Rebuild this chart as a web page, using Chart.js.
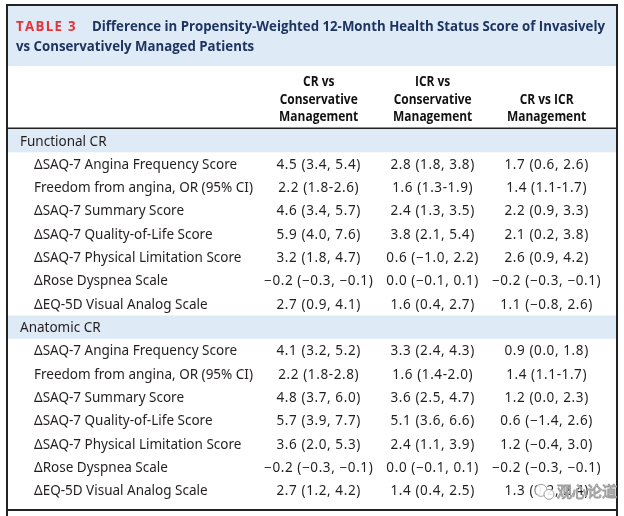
<!DOCTYPE html>
<html>
<head>
<meta charset="utf-8">
<script src="https://cdn.jsdelivr.net/npm/chart.js@4.4.1/dist/chart.umd.min.js"></script>
<style>
  html, body { margin: 0; padding: 0; background: #fff; }
  #wrap { width: 624px; height: 516px; }
</style>
</head>
<body>
<div id="wrap"><canvas id="table_3"></canvas></div>
<script>
const titleTag = 'TABLE 3';
const titleLines = [
    'Difference in Propensity-Weighted 12-Month Health Status Score of Invasively',
    'vs Conservatively Managed Patients'
];
const columnHeads = [
    ['CR vs', 'Conservative', 'Management'],
    ['ICR vs', 'Conservative', 'Management'],
    ['CR vs ICR', 'Management']
];
const groups = ['Functional CR', 'Anatomic CR'];
const measures = [
    'ΔSAQ-7 Angina Frequency Score',
    'Freedom from angina, OR (95% CI)',
    'ΔSAQ-7 Summary Score',
    'ΔSAQ-7 Quality-of-Life Score',
    'ΔSAQ-7 Physical Limitation Score',
    'ΔRose Dyspnea Scale',
    'ΔEQ-5D Visual Analog Scale'
];
const orRow = 1; // odds ratio row uses "lo-hi"

// [estimate, lower, upper]
const functionalCrVsCons = [[4.5, 3.4, 5.4], [2.2, 1.8, 2.6], [4.6, 3.4, 5.7], [5.9, 4.0, 7.6], [3.2, 1.8, 4.7], [-0.2, -0.3, -0.1], [2.7, 0.9, 4.1]];
const functionalIcrVsCons = [[2.8, 1.8, 3.8], [1.6, 1.3, 1.9], [2.4, 1.3, 3.5], [3.8, 2.1, 5.4], [0.6, -1.0, 2.2], [0.0, -0.1, 0.1], [1.6, 0.4, 2.7]];
const functionalCrVsIcr = [[1.7, 0.6, 2.6], [1.4, 1.1, 1.7], [2.2, 0.9, 3.3], [2.1, 0.2, 3.8], [2.6, 0.9, 4.2], [-0.2, -0.3, -0.1], [1.1, -0.8, 2.6]];
const anatomicCrVsCons = [[4.1, 3.2, 5.2], [2.2, 1.8, 2.8], [4.8, 3.7, 6.0], [5.7, 3.9, 7.7], [3.6, 2.0, 5.3], [-0.2, -0.3, -0.1], [2.7, 1.2, 4.2]];
const anatomicIcrVsCons = [[3.3, 2.4, 4.3], [1.6, 1.4, 2.0], [3.6, 2.5, 4.7], [5.1, 3.6, 6.6], [2.4, 1.1, 3.9], [0.0, -0.1, 0.1], [1.4, 0.4, 2.5]];
const anatomicCrVsIcr = [[0.9, 0.0, 1.8], [1.4, 1.1, 1.7], [1.2, 0.0, 2.3], [0.6, -1.4, 2.6], [1.2, -0.4, 3.0], [-0.2, -0.3, -0.1], [1.3, 0.2, 2.4]];

const columns = [
    [functionalCrVsCons, anatomicCrVsCons],
    [functionalIcrVsCons, anatomicIcrVsCons],
    [functionalCrVsIcr, anatomicCrVsIcr]
];

const rowsPerGroup = measures.length + 1;

function num(v) {
    return v.toFixed(1).replace('-', '\u2212');
}
function cellText(v, m) {
    if (m === orRow) return num(v[0]) + ' (' + num(v[1]) + '-' + num(v[2]) + ')';
    return num(v[0]) + ' (' + num(v[1]) + ', ' + num(v[2]) + ')';
}

const datasets = columns.map(function (col, c) {
    const pts = [];
    col.forEach(function (groupVals, g) {
        groupVals.forEach(function (v, m) {
            pts.push({ x: c + 1, y: g * rowsPerGroup + 1 + m, label: cellText(v, m) });
        });
    });
    return { data: pts, pointRadius: 0, pointHoverRadius: 0 };
});

const navy = '#1d3461';
const ink = '#231f20';
const band = '#deeaf6';
const bodyFont = '13.5px "Noto Sans"';
const headFont = 'bold 14px "Open Sans"';
const titleFont = 'bold 15px "Open Sans"';

function squeeze(ctx, text, x, y, sx) {
    ctx.save();
    ctx.translate(x, y);
    ctx.scale(sx, 1);
    ctx.fillText(text, 0, 0);
    ctx.restore();
}

const tablePlugin = {
    id: 'tablePlugin',
    beforeDatasetsDraw(chart) {
        const ctx = chart.ctx;
        const y = chart.scales.y;
        const left = 8, right = 616;
        ctx.save();
        ctx.fillStyle = band;
        ctx.fillRect(left, 6, right - left, 60);
        const rowH = Math.abs(y.getPixelForValue(1) - y.getPixelForValue(0));
        groups.forEach(function (g, i) {
            const cy = y.getPixelForValue(i * rowsPerGroup);
            ctx.fillRect(left, cy - rowH / 2, right - left, rowH);
        });
        // frame and rules
        ctx.fillStyle = '#222';
        ctx.fillRect(6, 4, 612, 2);
        ctx.fillRect(6, 4, 2, 520);
        ctx.fillRect(616, 4, 2, 520);
        ctx.fillRect(8, chart.chartArea.top - 1.5, 608, 1.5);
        ctx.fillRect(6, 509, 612, 2);
        ctx.restore();
    },
    afterDatasetsDraw(chart) {
        const ctx = chart.ctx;
        const x = chart.scales.x;
        const y = chart.scales.y;
        ctx.save();
        ctx.textBaseline = 'alphabetic';

        // title
        ctx.font = titleFont;
        const sx = 513 / ctx.measureText(titleLines[0]).width;
        ctx.fillStyle = '#e4343b';
        ctx.letterSpacing = '1.5px';
        ctx.textAlign = 'left';
        squeeze(ctx, titleTag, 16, 31, sx);
        ctx.letterSpacing = '0px';
        ctx.fillStyle = navy;
        squeeze(ctx, titleLines[0], 92, 31, sx);
        squeeze(ctx, titleLines[1], 16, 51, sx);

        // column heads, bottom aligned
        ctx.font = headFont;
        const hx = 78 / ctx.measureText('Conservative').width;
        ctx.fillStyle = '#111';
        ctx.textAlign = 'center';
        columnHeads.forEach(function (lines, c) {
            const cx = x.getPixelForValue(c + 1);
            lines.forEach(function (t, k) {
                const by = 121 - (lines.length - 1 - k) * 17.5;
                squeeze(ctx, t, cx, by, hx);
            });
        });

        // row labels
        ctx.font = bodyFont;
        ctx.fillStyle = ink;
        ctx.textAlign = 'left';
        ctx.textBaseline = 'middle';
        const x0 = chart.chartArea.left;
        groups.forEach(function (g, i) {
            ctx.fillText(g, x0 + 9, y.getPixelForValue(i * rowsPerGroup) + 1);
            measures.forEach(function (m, k) {
                ctx.fillText(m, x0 + 23, y.getPixelForValue(i * rowsPerGroup + 1 + k) + 1);
            });
        });

        // cells
        ctx.textAlign = 'center';
        ctx.letterSpacing = '0.6px';
        chart.data.datasets.forEach(function (ds, d) {
            chart.getDatasetMeta(d).data.forEach(function (el, i) {
                ctx.fillText(ds.data[i].label, el.x, el.y + 1);
            });
        });
        ctx.letterSpacing = '0px';

        // watermark
        const wy = y.getPixelForValue(15) + 1;
        ctx.strokeStyle = '#a0a0a0';
        ctx.lineWidth = 1;
        ctx.fillStyle = 'rgba(255,255,255,0.9)';
        ctx.beginPath();
        ctx.arc(541, wy - 1, 6, 0, Math.PI * 2);
        ctx.fill();
        ctx.stroke();
        ctx.beginPath();
        ctx.arc(549, wy + 3, 5, 0, Math.PI * 2);
        ctx.fill();
        ctx.stroke();
        ctx.font = '15px "Noto Sans CJK SC"';
        ctx.textAlign = 'left';
        ctx.fillText('观心论道', 557, wy);
        ctx.strokeText('观心论道', 557, wy);
        ctx.restore();
    }
};

document.addEventListener('DOMContentLoaded', function () {
    const table_canvas = document.getElementById('table_3');
    new Chart(table_canvas, {
        type: 'scatter',
        data: { datasets: datasets },
        options: {
            responsive: true,
            maintainAspectRatio: false,
            animation: false,
            layout: { padding: { top: 129, bottom: 14, left: 11, right: 9 } },
            scales: {
                x: { type: 'linear', display: false, min: -1.7, max: 3.6 },
                y: { type: 'linear', display: false, min: -0.5, max: 15.5, reverse: true }
            },
            plugins: {
                legend: { display: false },
                tooltip: { enabled: false }
            }
        },
        plugins: [tablePlugin]
    });
});
</script>
</body>
</html>
